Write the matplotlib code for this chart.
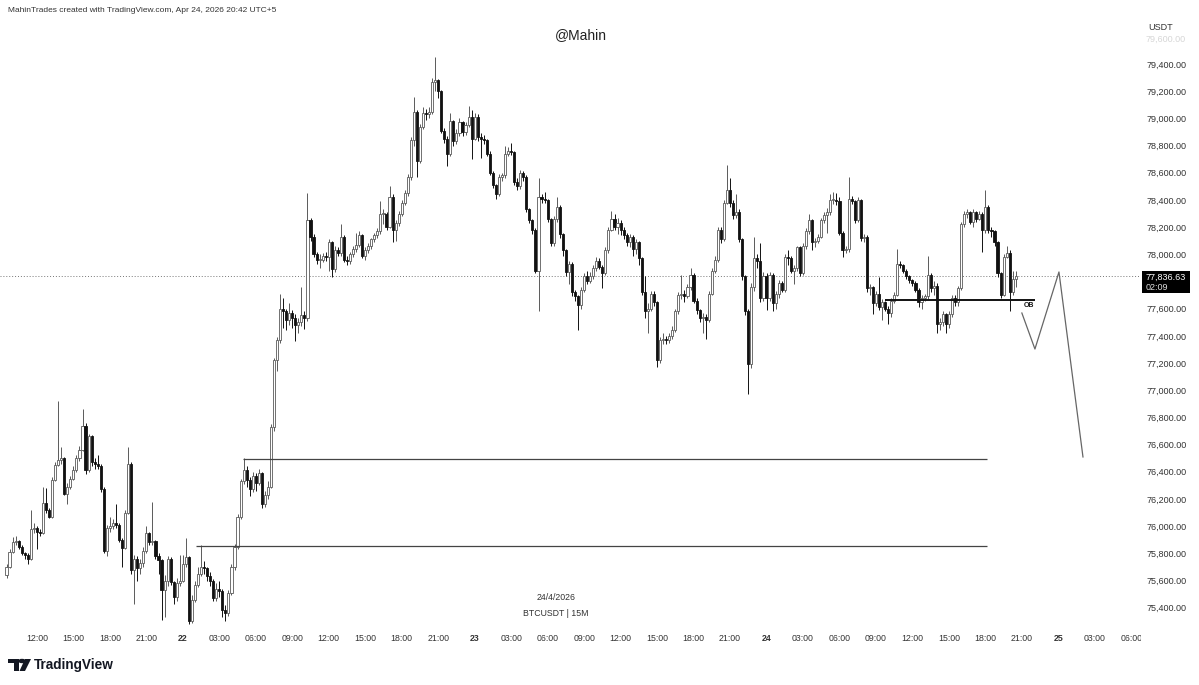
import matplotlib
matplotlib.use("Agg")
import matplotlib.pyplot as plt
from matplotlib.patches import Rectangle, Circle, Polygon

plt.rcParams['font.family'] = ['Liberation Sans', 'DejaVu Sans']

# BTCUSDT 15m candles, 21 Apr 09:30 -> 24 Apr 20:30 (open = previous close)
first_open = 75640
closes = [
    75700, 75810, 75880, 75890, 75850, 75800, 75790, 75760,
    75980, 75990, 75960, 75950, 76170, 76120, 76070, 76340,
    76450, 76490, 76500, 76240, 76290, 76350, 76410, 76500,
    76560, 76740, 76410, 76660, 76470, 76460, 76440, 76270,
    75820, 75990, 76000, 76020, 76010, 75900, 75840, 76100,
    76460, 75680, 75760, 75690, 75730, 75820, 75950, 75880,
    75890, 75780, 75750, 75530, 75600, 75760, 75590, 75480,
    75580, 75600, 75720, 75770, 75300, 75460, 75570, 75650,
    75700, 75690, 75630, 75600, 75470, 75540, 75520, 75380,
    75360, 75510, 75700, 75850, 76070, 76330, 76410, 76340,
    76270, 76370, 76320, 76390, 76160, 76230, 76290, 76730,
    77220, 77370, 77600, 77580, 77520, 77570, 77530, 77480,
    77500, 77550, 77530, 78250, 78130, 78000, 77960, 77960,
    77990, 77980, 78090, 77890, 78030, 78010, 78130, 77960,
    77950, 78000, 78040, 78070, 78140, 77990, 78030, 78060,
    78110, 78140, 78170, 78300, 78300, 78200, 78420, 78180,
    78230, 78300, 78380, 78450, 78570, 78840, 79050, 78690,
    78940, 79040, 79030, 79050, 79270, 79280, 79200, 78910,
    78850, 78740, 78980, 78830, 78890, 78970, 78900, 78950,
    79010, 78850, 79010, 78860, 78850, 78840, 78740, 78600,
    78510, 78440, 78570, 78580, 78740, 78760, 78750, 78530,
    78500, 78600, 78570, 78330, 78250, 78180, 77880, 78420,
    78410, 78400, 78260, 78080, 78260, 78350, 78150, 78030,
    77870, 77930, 77720, 77690, 77630, 77740, 77840, 77800,
    77840, 77900, 77950, 77910, 77860, 78030, 78180, 78260,
    78200, 78230, 78180, 78140, 78090, 78130, 78040, 78090,
    77970, 77720, 77580, 77600, 77710, 77650, 77220, 77370,
    77380, 77370, 77400, 77440, 77580, 77700, 77710, 77690,
    77760, 77850, 77660, 77590, 77530, 77540, 77520, 77710,
    77880, 77960, 78180, 78110, 78380, 78470, 78380, 78290,
    78310, 78110, 77840, 77580, 77190, 77760, 77970, 77950,
    77680, 77840, 77680, 77850, 77640, 77710, 77790, 77740,
    77980, 77970, 77880, 77900, 78050, 77860, 78060, 78170,
    78250, 78090, 78100, 78130, 78250, 78290, 78310, 78400,
    78400, 78390, 78160, 78030, 78040, 78410, 78390, 78250,
    78400, 78120, 78130, 77750, 77760, 77640, 77710, 77610,
    77650, 77600, 77570, 77660, 77700, 77930, 77920, 77880,
    77840, 77810, 77790, 77740, 77650, 77680, 77690, 77850,
    77750, 77770, 77490, 77500, 77560, 77490, 77560, 77680,
    77650, 77750, 78220, 78300, 78310, 78240, 78310, 78260,
    78300, 78180, 78350, 78180, 78170, 78090, 77860, 77700,
    77980, 78010, 77720, 77820, 77836.63,
]
highs = [
    75720, 75830, 75920, 75930, 75900, 75860, 75810, 75800,
    76120, 76020, 76000, 75980, 76290, 76280, 76130, 76360,
    76470, 76920, 76580, 76510, 76320, 76370, 76440, 76520,
    76590, 76860, 76760, 76680, 76670, 76500, 76520, 76460,
    76290, 76010, 76070, 76050, 76160, 76020, 75910, 76120,
    76580, 76470, 75790, 75780, 75760, 75850, 76000, 75960,
    76180, 75900, 75800, 75760, 75640, 75780, 75770, 75600,
    75620, 75790, 75790, 75910, 75780, 75490, 75600, 75700,
    75860, 75740, 75700, 75660, 75610, 75580, 75600, 75540,
    75420, 75530, 75720, 75870, 76090, 76350, 76500, 76440,
    76360, 76400, 76390, 76420, 76400, 76260, 76330, 76750,
    77240, 77390, 77710, 77680, 77600, 77640, 77590, 77560,
    77530, 77760, 77580, 78450, 78270, 78150, 78020, 78000,
    78010, 78020, 78110, 78100, 78060, 78050, 78220, 78140,
    77990, 78020, 78060, 78160, 78170, 78150, 78050, 78080,
    78120, 78160, 78190, 78390, 78330, 78310, 78500, 78440,
    78250, 78320, 78400, 78470, 78590, 78860, 79160, 79060,
    78960, 79080, 79070, 79080, 79300, 79450, 79290, 79210,
    78930, 78870, 79040, 78990, 78920, 79000, 78980, 78970,
    79090, 79060, 79040, 79030, 78890, 78880, 78850, 78760,
    78610, 78520, 78590, 78600, 78800, 78790, 78820, 78760,
    78560, 78620, 78610, 78580, 78340, 78260, 78190, 78560,
    78440, 78460, 78410, 78270, 78280, 78420, 78360, 78160,
    78040, 77950, 77940, 77740, 77700, 77760, 77860, 77880,
    77870, 77920, 77980, 77970, 77920, 78050, 78200, 78320,
    78300, 78270, 78250, 78200, 78160, 78150, 78140, 78110,
    78100, 77980, 77840, 77640, 77730, 77730, 77660, 77390,
    77420, 77400, 77420, 77470, 77600, 77720, 77850, 77740,
    77780, 77900, 77860, 77680, 77600, 77570, 77560, 77730,
    77900, 77990, 78200, 78200, 78400, 78660, 78560, 78400,
    78440, 78330, 78120, 77850, 77600, 77790, 78130, 78000,
    78080, 77870, 77860, 77870, 77860, 77730, 77810, 77800,
    78000, 78030, 77990, 77920, 78060, 78060, 78080, 78190,
    78300, 78260, 78120, 78150, 78270, 78310, 78340, 78440,
    78460, 78450, 78420, 78170, 78060, 78570, 78430, 78400,
    78420, 78410, 78150, 78140, 77780, 77770, 77730, 77830,
    77670, 77660, 77620, 77680, 77720, 78040, 77950, 77930,
    77890, 77850, 77820, 77800, 77750, 77700, 77710, 77990,
    77860, 77800, 77790, 77530, 77580, 77570, 77580, 77700,
    77700, 77770, 78240, 78320, 78330, 78320, 78330, 78320,
    78320, 78310, 78470, 78360, 78200, 78180, 78100, 77870,
    78000, 78060, 78030, 77880, 77880,
]
lows = [
    75620, 75690, 75800, 75860, 75830, 75790, 75760, 75720,
    75750, 75950, 75830, 75930, 75940, 76100, 76060, 76060,
    76330, 76440, 76460, 76230, 76160, 76270, 76340, 76400,
    76480, 76550, 76380, 76400, 76440, 76420, 76420, 76250,
    75800, 75780, 75960, 75980, 75990, 75880, 75700, 75830,
    76090, 75650, 75430, 75600, 75650, 75700, 75800, 75860,
    75860, 75760, 75650, 75310, 75330, 75560, 75570, 75430,
    75450, 75560, 75590, 75700, 75280, 75290, 75440, 75550,
    75630, 75650, 75600, 75560, 75450, 75450, 75480, 75330,
    75300, 75340, 75490, 75680, 75830, 76050, 76310, 76290,
    76220, 76250, 76260, 76300, 76130, 76140, 76200, 76280,
    76700, 77140, 77350, 77460, 77440, 77480, 77460, 77360,
    77420, 77470, 77450, 77510, 78100, 77980, 77930, 77900,
    77940, 77950, 77880, 77830, 77870, 77990, 77990, 77940,
    77920, 77930, 77980, 78020, 78050, 77970, 77960, 78010,
    78040, 78090, 78120, 78150, 78220, 78180, 78190, 78090,
    78100, 78210, 78280, 78360, 78430, 78550, 78800, 78570,
    78670, 78920, 78990, 79000, 79030, 79200, 79150, 78890,
    78820, 78650, 78720, 78800, 78810, 78870, 78870, 78880,
    78940, 78700, 78840, 78830, 78710, 78810, 78720, 78580,
    78490, 78410, 78430, 78540, 78560, 78720, 78730, 78510,
    78470, 78480, 78540, 78310, 78230, 78150, 77860, 77580,
    78380, 78380, 78240, 78060, 78060, 78240, 78120, 77990,
    77840, 77780, 77690, 77660, 77440, 77600, 77720, 77780,
    77790, 77820, 77880, 77890, 77750, 77850, 78010, 78170,
    78180, 78150, 78140, 78110, 78060, 78050, 77990, 78000,
    77920, 77700, 77530, 77420, 77580, 77620, 77170, 77200,
    77340, 77340, 77350, 77380, 77430, 77560, 77670, 77650,
    77680, 77740, 77640, 77560, 77500, 77420, 77380, 77500,
    77700, 77860, 77940, 78080, 78100, 78370, 78350, 78260,
    78270, 78090, 77810, 77550, 76970, 77160, 77730, 77900,
    77650, 77660, 77590, 77660, 77580, 77600, 77680, 77720,
    77720, 77920, 77860, 77780, 77880, 77840, 77850, 78040,
    78150, 78030, 78050, 78080, 78120, 78230, 78160, 78290,
    78370, 78360, 78140, 77980, 78010, 78020, 78370, 78230,
    78240, 78100, 78090, 77720, 77700, 77560, 77620, 77590,
    77520, 77580, 77490, 77540, 77640, 77690, 77900, 77860,
    77820, 77790, 77770, 77720, 77610, 77600, 77660, 77670,
    77720, 77700, 77420, 77440, 77470, 77420, 77460, 77540,
    77620, 77620, 77740, 78200, 78270, 78220, 78200, 78240,
    78250, 78020, 78160, 78160, 78130, 78060, 77830, 77680,
    77690, 77970, 77580, 77700, 77760,
]
last_price = 77836.63
# 77,800 sits under the last-price badge, so it is not labelled
price_ticks = [p for p in range(75400, 79401, 200) if p != 77800]

# drawn levels (price) and the projected path
level_upper = 76495
level_lower = 75855
ob_level = 77664
path_prices = [77568, 77303, 77870, 76509]

# ---- layout helpers (pixels of the 1199x685 image) ----
W, H = 1199, 685
def fx(px):
    return px / W
def fy(py):
    return 1 - py / H

fig = plt.figure(figsize=(W / 100, H / 100), dpi=100)
fig.patch.set_facecolor('white')
ax = fig.add_axes([0, fy(625), fx(1140), (625 - 18) / H])

# candle index -> pixel x = 6.5 + 3.04 * i
n = len(closes)
opens = [first_open] + closes[:-1]
up_c, dn_c = '#5a5a5a', '#111111'
for i in range(n):
    o, c = opens[i], closes[i]
    up = c >= o
    col = up_c if up else dn_c
    ax.vlines(i, lows[i], highs[i], color=col, lw=0.7, zorder=2)
    lo_b, hi_b = min(o, c), max(o, c)
    if hi_b - lo_b < 6:
        hi_b = lo_b + 6
    ax.add_patch(Rectangle((i - 0.35, lo_b), 0.7, hi_b - lo_b,
                           facecolor='white' if up else dn_c,
                           edgecolor=col, lw=0.6, zorder=3))

# x in candle-index units for the drawings
ax.hlines(level_upper, 77.8, 322.6, color='#444444', lw=0.9, zorder=4)
ax.hlines(level_lower, 62.3, 322.6, color='#444444', lw=0.9, zorder=4)
ax.hlines(ob_level, 289.0, 338.3, color='#111111', lw=1.4, zorder=4)
ax.text(336.3, ob_level - 38, 'OB', fontsize=5, fontweight='bold',
        ha='center', va='center', color='#111111')
ax.plot([334.0, 338.3, 346.2, 354.1], path_prices, color='#666666', lw=0.9, zorder=4)
ax.axhline(last_price, color='#777777', lw=0.7, ls=(0, (1, 2)), zorder=1)

ax.set_xlim(-2.14, 372.86)
ax.set_ylim(75272.7, 79738.4)
for s in ax.spines.values():
    s.set_visible(False)

# time axis: every 3h, day numbers in bold
tick_pos, tick_lab = [], []
for h in range(-12, 79, 3):
    tick_pos.append((h + 14.5) * 4)
    if h % 24 == 0:
        tick_lab.append(str(22 + h // 24))
    else:
        tick_lab.append('%02d:00' % (h % 24))
ax.set_xticks(tick_pos, tick_lab)
ax.tick_params(axis='x', length=0, pad=6.5, labelsize=6.3, labelcolor='#333333')
for t in ax.get_xticklabels():
    if ':' not in t.get_text():
        t.set_fontweight('bold')

ax.yaxis.tick_right()
ax.set_yticks(price_ticks, ['{:,.2f}'.format(p) for p in price_ticks])
ax.tick_params(axis='y', length=0, pad=4.5, labelsize=6.5, labelcolor='#333333')

# cover the time labels under the price scale
fig.add_artist(Rectangle((fx(1141), fy(650)), fx(1199) - fx(1141), fy(620) - fy(650),
                         transform=fig.transFigure, facecolor='white', edgecolor='none', zorder=5))

fig.text(fx(1148), fy(28), 'USDT', fontsize=6.5, color='#333333', va='center')
fig.text(fx(1146), fy(39), '79,600.00', fontsize=6.5, color='#333333', alpha=0.2, va='center')

# last price badge
fig.add_artist(Rectangle((fx(1142), fy(293)), fx(48), 22 / H, transform=fig.transFigure,
                         facecolor='black', edgecolor='none', zorder=6))
fig.text(fx(1146), fy(277), '{:,.2f}'.format(last_price), fontsize=6.5, color='white',
         va='center', zorder=7)
fig.text(fx(1146), fy(287.5), '02:09', fontsize=6.5, color='#dddddd', va='center', zorder=7)

fig.text(fx(8), fy(10), 'MahinTrades created with TradingView.com, Apr 24, 2026 20:42 UTC+5',
         fontsize=6.0, color='#333333', va='center')
fig.text(fx(581), fy(35), '@Mahin', fontsize=10, color='#222222', ha='center', va='center')
fig.text(fx(556), fy(598), '24/4/2026', fontsize=6.3, color='#333333', ha='center', va='center')
fig.text(fx(556), fy(614), 'BTCUSDT | 15M', fontsize=6.3, color='#333333', ha='center', va='center')

# TradingView logo
logo = '#131722'
fig.add_artist(Rectangle((fx(8), fy(663)), fx(11), 4 / H, transform=fig.transFigure,
                         facecolor=logo, edgecolor='none'))
fig.add_artist(Rectangle((fx(14), fy(671)), fx(5), 12 / H, transform=fig.transFigure,
                         facecolor=logo, edgecolor='none'))
fig.add_artist(Circle((fx(22), fy(661)), 2.2 / H, transform=fig.transFigure,
                      facecolor=logo, edgecolor='none'))
fig.add_artist(Polygon([(fx(25), fy(659)), (fx(31), fy(659)), (fx(25), fy(671)), (fx(19.5), fy(671))],
                       closed=True, transform=fig.transFigure, facecolor=logo, edgecolor='none'))
fig.text(fx(34), fy(665), 'TradingView', fontsize=9.8, fontweight='bold', color=logo, va='center')

fig.savefig('out.png', dpi=100)
